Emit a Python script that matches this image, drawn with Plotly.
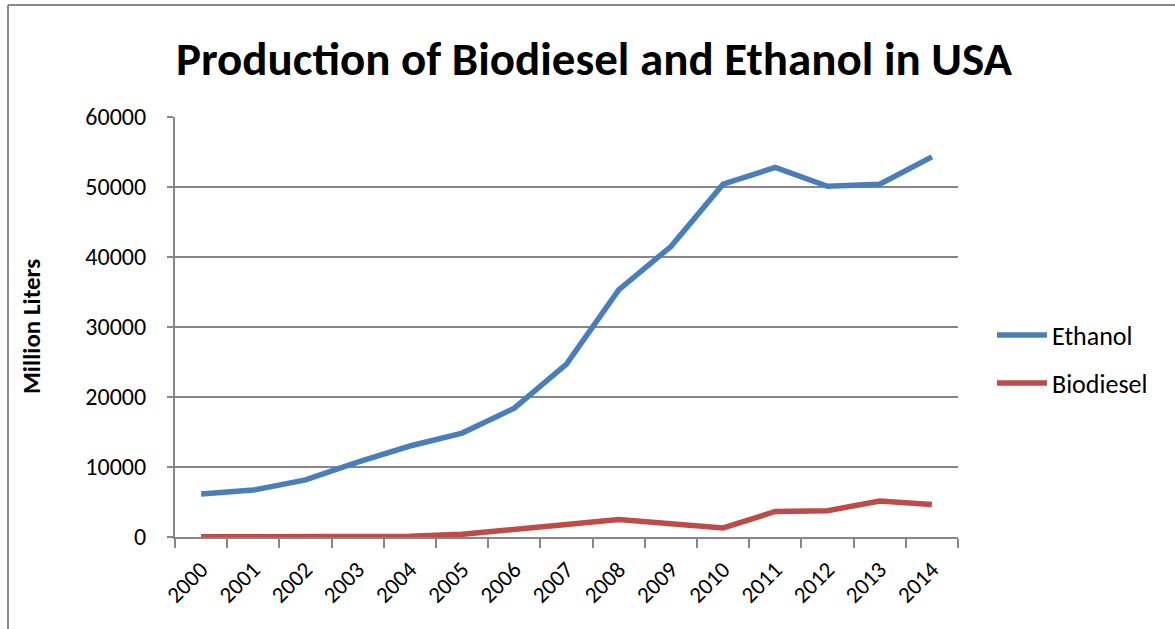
import plotly.graph_objects as go

years = [str(y) for y in range(2000, 2015)]
ethanol = [6150, 6700, 8150, 10700, 13000, 14850, 18400, 24700, 35300, 41500, 50400, 52800, 50100, 50400, 54300]
biodiesel = [30, 35, 60, 70, 100, 380, 1000, 1800, 2500, 1900, 1300, 3650, 3750, 5150, 4650]
y_ticks = [0, 10000, 20000, 30000, 40000, 50000, 60000]

FONT = "Carlito, Lato, 'Open Sans', sans-serif"
OFF = 0  # body margin removed via post_script
W, H = 1175 - OFF, 629 - OFF
L, T = 175 - OFF, 117 - OFF
R = W - (958 - OFF)
B = H - (537 - OFF)
pw, ph = W - L - R, H - T - B


def px_x(page_x):
    return (page_x - OFF - L) / pw


def px_y(page_y):
    return 1 - (page_y - OFF - T) / ph


fig = go.Figure()
fig.add_trace(go.Scatter(x=years, y=ethanol, name="Ethanol", mode="lines",
                         line=dict(color="#4A7EBB", width=5.5), legend="legend"))
fig.add_trace(go.Scatter(x=years, y=biodiesel, name="Biodiesel", mode="lines",
                         line=dict(color="#BE4B48", width=5.5), legend="legend2"))

leg_common = dict(font=dict(size=26, family=FONT, color="black"), bgcolor="rgba(0,0,0,0)",
                  xanchor="left", yanchor="middle", itemwidth=50)

fig.update_layout(
    width=W, height=H,
    margin=dict(l=L, r=R, t=T, b=B, autoexpand=False),
    paper_bgcolor="white", plot_bgcolor="white",
    font=dict(family=FONT, color="black"),
    title=dict(text="<b>Production of Biodiesel and Ethanol in USA</b>",
               x=(594 - OFF) / W, xanchor="center", y=1 - (59 - OFF) / H, yanchor="middle",
               font=dict(size=47, family=FONT, color="black")),
    showlegend=True,
    legend=dict(x=px_x(992), y=px_y(335), **leg_common),
    legend2=dict(x=px_x(992), y=px_y(383), **leg_common),
    xaxis=dict(type="category", tickson="boundaries", ticks="outside", ticklen=9,
               tickwidth=2, tickcolor="#868686", showline=True, linecolor="#868686",
               linewidth=2, showgrid=False, tickangle=-45, ticklabelstandoff=8,
               tickfont=dict(size=23, family=FONT), range=[-0.5, 14.5]),
    yaxis=dict(range=[0, 60000], tickvals=y_ticks, ticktext=[str(v) for v in y_ticks],
               showgrid=True, gridcolor="#868686", gridwidth=1.5, showline=True,
               linecolor="#868686", linewidth=2, ticks="outside", ticklen=6,
               tickcolor="#868686", tickwidth=1.5, zeroline=False, ticklabelstandoff=16,
               tickfont=dict(size=24, family=FONT)),
)

fig.add_annotation(text="<b>Million Liters</b>", textangle=-90, xref="paper", yref="paper",
                   x=px_x(31), y=px_y(327), xanchor="center", yanchor="middle",
                   showarrow=False, font=dict(size=25, family=FONT, color="black"))

# outer chart border (top & left visible)
fig.add_shape(type="line", xref="paper", yref="paper",
              x0=px_x(8), x1=px_x(1190), y0=px_y(5), y1=px_y(5),
              line=dict(color="#898989", width=2))
fig.add_shape(type="line", xref="paper", yref="paper",
              x0=px_x(8), x1=px_x(8), y0=px_y(5), y1=px_y(640),
              line=dict(color="#898989", width=2))

fig.write_html("out.html", config={"displayModeBar": False},
               post_script="document.body.style.margin='0';")
